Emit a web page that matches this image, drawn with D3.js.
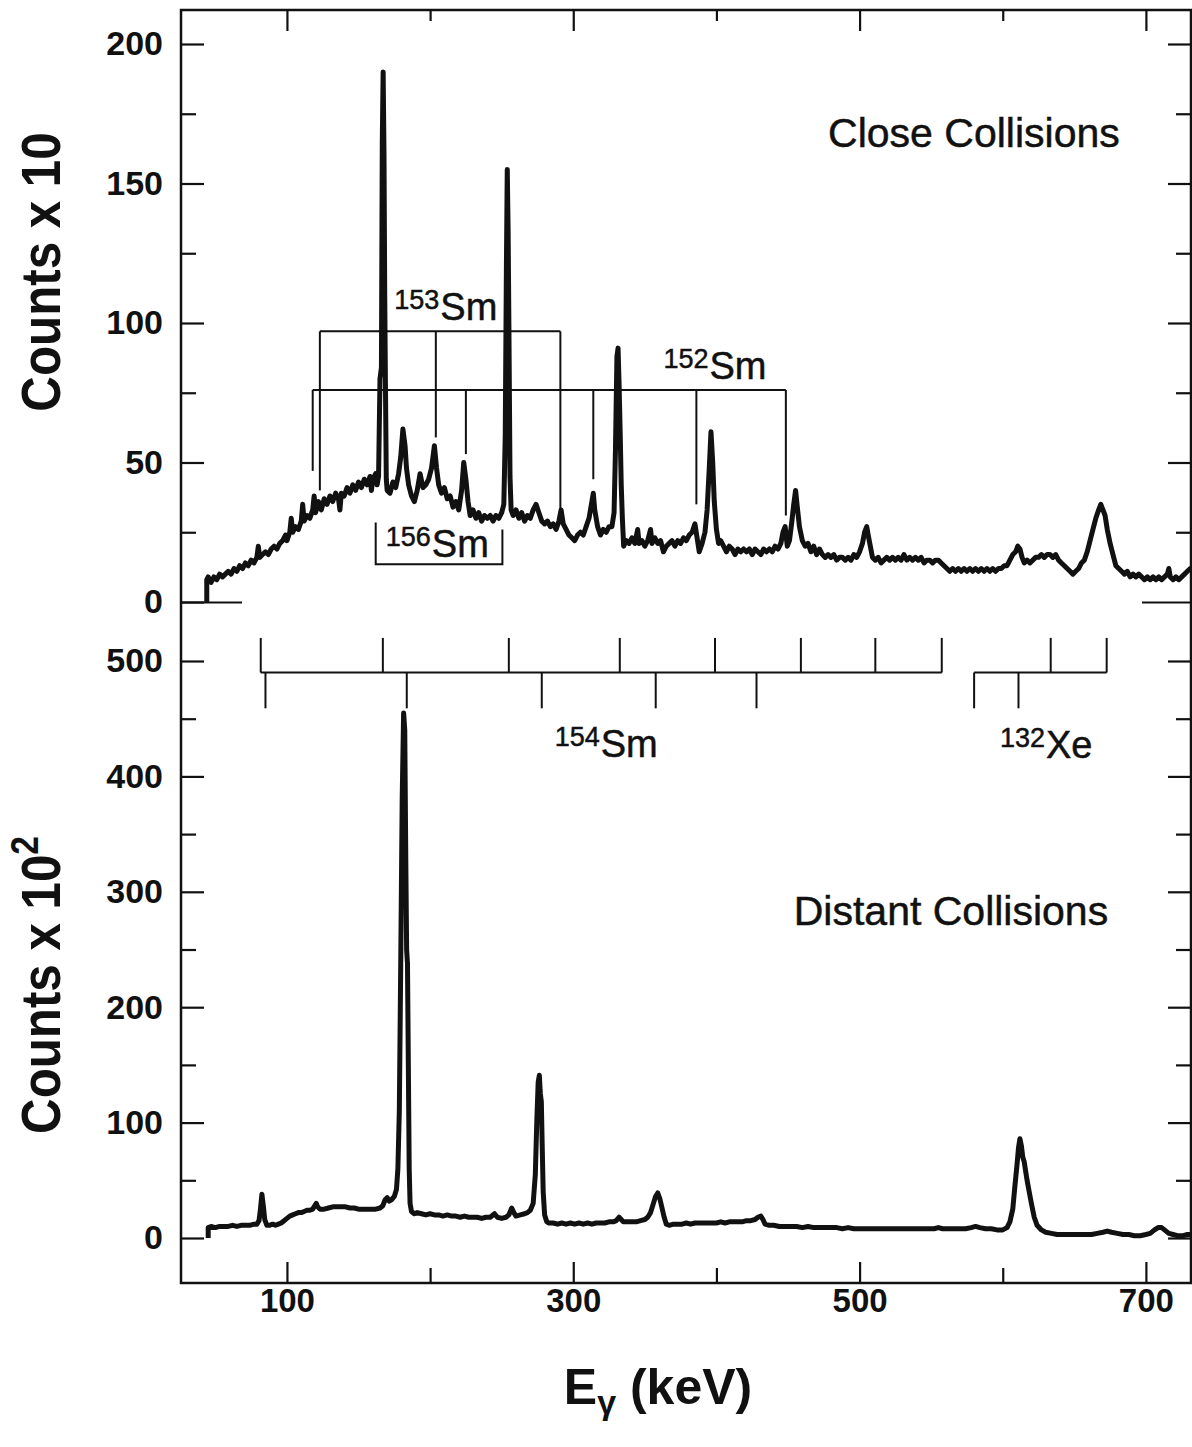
<!DOCTYPE html>
<meta charset="utf-8">
<head>
    <title>Gamma spectra, close and distant collisions</title>
    <script src="https://d3js.org/d3.v7.min.js"></script>
</head>

<style>
body { margin: 0; background: #fff; }
svg { display: block; }
text { font-family: "Liberation Sans", Arial, Helvetica, sans-serif; fill: #111; }
</style>

<body>

<svg></svg>

<script>

// close collisions spectrum [E (keV), counts x 10]
let closeSpectrum = [
  [44,0],[44,8],[45,9],[47,7],[49,9],[51,8],[53,10],[55,9],[57,10],[59,11],[61,10],[63,12],[65,11],[67,13],
  [69,12],[71,14],[73,13],[75,15],[77,14],[79,16],[80,20],[81,16],[83,17],[85,18],[87,17],[89,19],[91,20],
  [93,19],[95,21],[97,22],[99,24],[100,22],[102,25],[103,30],[104,25],[106,27],[108,26],[110,29],[111,35],
  [112,29],[114,31],[116,30],[118,33],[119,38],[120,32],[122,36],[124,33],[126,37],[128,35],[130,38],[132,36],
  [134,39],[136,37],[137,33],[138,39],[140,38],[142,41],[144,39],[146,42],[148,40],[150,43],[152,41],[154,44],
  [156,42],[158,45],[159,40],[160,44],[162,46],[163,42],[164,45],[165,80],[166,84],[166.6,165],[167.2,190],
  [167.8,160],[168.3,110],[168.8,78],[169.4,44],[170,40],[172,39],[174,43],[176,41],[178,46],[179.5,52],
  [181,62],[182.5,56],[183.5,48],[185,42],[187,38],[189,36],[191,40],[193,46],[195,41],[197,42],[199,44],
  [201,48],[203,56],[204.5,48],[206,42],[208,39],[210,41],[212,37],[214,38],[216,34],[218,36],[220,33],
  [222,40],[223.5,50],[225,44],[226.5,36],[228,31],[230,33],[232,30],[234,32],[236,29],[238,31],[240,30],
  [242,31],[244,29],[246,31],[248,30],[250,32],[251.5,35],[252.5,60],[253.3,120],[253.9,155],[254.5,133],
  [255.1,95],[255.8,45],[256.6,33],[258,31],[260,33],[262,30],[264,32],[266,29],[268,31],[270,30],[272,33],
  [274,35],[276,32],[278,29],[280,28],[282,29],[284,27],[286,28],[288,26],[290,29],[291.5,33],[293,28],
  [295,26],[297,24],[299,23],[301,22],[303,24],[305,25],[307,24],[309,27],[311,30],[313,36],[314,39],[315,33],
  [317,27],[319,24],[321,26],[323,25],[325,27],[327,27],[328.5,32],[329.5,55],[330.5,88],[331.3,91],[332,78],
  [332.8,60],[333.5,42],[334.3,30],[335.2,20],[337,22],[339,21],[341,23],[343,21],[345,26],[346,21],[348,22],
  [350,20],[352,22],[354,26],[355,21],[357,23],[359,21],[361,22],[363,18],[365,20],[367,21],[369,22],[371,20],
  [373,22],[375,21],[377,23],[379,22],[381,24],[383,25],[385,28],[386.5,23],[388,18],[390,21],[392,25],
  [393.5,33],[395,48],[396.2,61],[397.4,50],[398.5,36],[400,26],[401.5,21],[403,22],[405,20],[407,18],[409,20],
  [411,19],[413,17],[415,19],[417,18],[419,19],[421,18],[423,19],[425,17],[427,19],[429,18],[431,17],[433,19],
  [435,18],[437,19],[439,18],[441,20],[443,19],[445,21],[446.5,25],[448,27],[449.5,20],[451,22],[452.5,28],
  [454,35],[455.3,40],[456.5,34],[458,27],[460,22],[462,20],[464,21],[466,18],[468,20],[470,17],[472,19],
  [474,17],[476,16],[478,17],[480,16],[482,17],[484,15],[486,16],[488,16],[490,15],[492,16],[494,15],[496,17],
  [498,16],[500,18],[502,21],[503.5,25],[505,27],[506,24],[507.5,20],[509,16],[511,15],[513,16],[515,14],
  [517,15],[519,16],[521,15],[523,16],[525,15],[527,16],[529,15],[531,17],[533,15],[535,16],[537,15],[539,16],
  [541,15],[543,16],[545,14],[547,15],[549,15],[551,14],[553,15],[555,15],[557,14],[559,13],[561,12],[563,11],
  [565,12],[567,11],[569,12],[571,11],[573,12],[575,11],[577,12],[579,11],[581,12],[583,11],[585,12],[587,11],
  [589,12],[591,11],[593,12],[595,11],[597,12],[599,12],[601,13],[603,13],[605,15],[607,17],[609,18],
  [610.5,20],[612,19],[613.5,16],[615,14],[617,15],[619,14],[621,15],[623,16],[625,16],[627,17],[629,16],
  [631,17],[633,17],[635,16],[637,17],[639,15],[641,14],[643,13],[645,12],[647,11],[649,10],[651,11],[653,12],
  [655,14],[657,15],[659,18],[661,22],[663,26],[665,30],[667,33],[668.5,35],[670,33],[671.5,31],[673,26],
  [675,21],[677,17],[679,13],[681,12],[683,11],[685,10],[687,11],[689,9],[691,10],[693,9],[695,10],[697,9],
  [699,8],[701,9],[703,8],[705,9],[707,8],[709,9],[711,8],[713,9],[715,10],[716,12],[717,9],[719,8],[721,9],
  [723,8],[725,9],[727,10],[729,11],[731,12],[732,12]
];

// distant collisions spectrum [E (keV), counts x 10^2]
let distantSpectrum = [
  [45,0],[45,9],[47,10],[50,9],[53,10],[56,10],[59,10],[62,11],[65,10],[68,11],[71,11],[74,11],[77,12],[79,12],
  [80.5,15],[81.5,25],[82.5,38],[83.5,28],[84.5,16],[86,11],[88,11],[90,12],[92,11],[94,12],[96,13],[98,15],
  [100,17],[102,19],[104,20],[106,21],[108,22],[110,22],[112,23],[114,24],[116,24],[118,25],[119.5,28],
  [120.5,30],[121.5,27],[123,25],[126,25],[129,26],[132,27],[135,27],[138,27],[141,27],[144,26],[147,26],
  [150,25],[153,25],[156,25],[159,25],[162,25],[165,26],[167,28],[168.5,33],[170,35],[171.5,32],[173,33],
  [175,36],[176.5,42],[177.5,60],[178.5,110],[179.5,240],[180.5,380],[181.5,455],[182.3,440],[183,330],
  [183.6,250],[184.2,238],[184.8,150],[185.4,60],[186,30],[187,23],[189,21],[191,22],[194,21],[197,20],
  [200,21],[203,20],[206,20],[209,19],[212,20],[215,19],[218,19],[221,18],[224,19],[227,18],[230,18],[233,18],
  [236,17],[239,18],[242,18],[245,21],[247,18],[250,17],[253,18],[255,20],[257,26],[258.5,22],[260,19],
  [263,20],[266,21],[268,22],[270,24],[272,30],[273.5,55],[274.5,100],[275.5,135],[276.3,141],[277,125],
  [277.7,118],[278.3,80],[279,40],[280,20],[281.5,14],[283,13],[286,13],[289,12],[292,13],[295,12],[298,13],
  [301,12],[304,13],[307,12],[310,13],[313,12],[316,13],[319,13],[322,13],[325,14],[328,14],[330,15],[332,18],
  [333.5,16],[335,14],[338,14],[341,14],[344,14],[347,15],[350,16],[352,18],[354,22],[356,30],[357.5,36],
  [359,39],[360.5,34],[362,26],[363.5,18],[365,12],[367,11],[370,12],[373,12],[376,12],[379,13],[382,12],
  [385,13],[388,13],[391,13],[394,13],[397,13],[400,13],[403,14],[406,13],[409,14],[412,14],[415,14],[418,14],
  [421,15],[424,15],[427,16],[429,18],[431,19],[432.5,16],[434,12],[437,11],[440,11],[444,10],[448,10],
  [452,10],[456,10],[460,9],[464,10],[468,9],[472,9],[476,9],[480,9],[484,9],[488,8],[492,9],[496,8],[500,8],
  [504,8],[508,8],[512,8],[516,8],[520,8],[524,8],[528,8],[532,8],[536,8],[540,8],[544,8],[548,8],[552,8],
  [555,9],[558,8],[562,8],[566,8],[570,8],[574,8],[578,9],[581,10],[584,9],[588,8],[592,8],[596,7],[600,7],
  [603,9],[605,14],[607,25],[608.5,45],[610,64],[611,78],[612,86],[613,80],[614,70],[615,66],[616,58],[617,50],
  [618.5,40],[620,30],[622,18],[624,11],[627,7],[630,5],[634,4],[638,3],[642,3],[646,3],[650,3],[654,3],
  [658,3],[662,3],[666,4],[670,5],[673,6],[676,5],[680,4],[684,3],[688,3],[692,2],[696,2],[700,3],[703,4],
  [706,7],[708.5,9],[711,9],[713,7],[716,4],[719,3],[722,2],[726,2],[729,3],[732,3]
];

// level schemes drawn over the close spectrum: [E, lower end of the marker]
let sm153Level = 97;
let sm153Lines = [[123, 40], [204, 59], [291, 32]];
let sm152Level = 76;
let sm152Lines = [[118, 47], [225, 53], [314, 44], [386, 35], [448.5, 31]];
let sm156Box = [[162, 28.5], [162, 13.5], [250.5, 13.5], [250.5, 26]];

// level schemes over the distant spectrum (upward / downward markers)
let sm154Level = 490;
let sm154Up = [81.7, 167, 255, 332.5, 399, 459, 511, 557.4];
let sm154Down = [85, 183.7, 278, 357.6, 428];
let xe132Up = [633.5, 672.6];
let xe132Down = [580, 611];
let markTop = 520, markBottom = 459;

// tick values
let energyLong = [100, 300, 500, 700];
let energyShort = [200, 400, 600];
let closeMajor = [0, 50, 100, 150, 200];
let closeMinor = [25, 75, 125, 175];
let distantMajor = [0, 100, 200, 300, 400, 500];
let distantMinor = [50, 150, 250, 350, 450];

let width = 1192, height = 1447;
let frame = {left: 181, right: 1191, top: 10, bottom: 1283};

let svg = d3.select("svg")
    .attr("width", width)
    .attr("height", height);

// set the ranges
let x = d3.scaleLinear().domain([26, 731.5]).range([frame.left, frame.right]);
let yClose = d3.scaleLinear().domain([0, 200]).range([602, 44]);
let yDist = d3.scaleLinear().domain([0, 500]).range([1238, 661]);

let font = '"Liberation Sans", Arial, Helvetica, sans-serif';

function styleAxis(g, size) {
  g.select(".domain").remove();
  g.selectAll("line").attr("stroke", "#111").attr("stroke-width", 2.2);
  g.attr("font-family", font).attr("font-size", size).attr("font-weight", "bold");
  g.selectAll("text").attr("fill", "#111");
}

// frame
svg.append("rect")
  .attr("x", frame.left)
  .attr("y", frame.top)
  .attr("width", frame.right - frame.left)
  .attr("height", frame.bottom - frame.top)
  .attr("fill", "none")
  .attr("stroke", "#111")
  .attr("stroke-width", 2.5);

// y axes, left side
svg.append("g").attr("transform", "translate(" + frame.left + ",0)")
  .call(d3.axisLeft(yClose).tickValues(closeMajor).tickSize(-23).tickPadding(18))
  .call(g => styleAxis(g, 34));
svg.append("g").attr("transform", "translate(" + frame.left + ",0)")
  .call(d3.axisLeft(yClose).tickValues(closeMinor).tickSize(-15).tickFormat(""))
  .call(g => styleAxis(g, 34));
svg.append("g").attr("transform", "translate(" + frame.left + ",0)")
  .call(d3.axisLeft(yClose).tickValues([0]).tickSize(-61).tickFormat(""))
  .call(g => styleAxis(g, 34));
svg.append("g").attr("transform", "translate(" + frame.left + ",0)")
  .call(d3.axisLeft(yDist).tickValues(distantMajor).tickSize(-23).tickPadding(18))
  .call(g => styleAxis(g, 34));
svg.append("g").attr("transform", "translate(" + frame.left + ",0)")
  .call(d3.axisLeft(yDist).tickValues(distantMinor).tickSize(-15).tickFormat(""))
  .call(g => styleAxis(g, 34));

// y axes, right side (ticks only)
svg.append("g").attr("transform", "translate(" + frame.right + ",0)")
  .call(d3.axisRight(yClose).tickValues(closeMajor.slice(1)).tickSize(-23).tickFormat(""))
  .call(g => styleAxis(g, 34));
svg.append("g").attr("transform", "translate(" + frame.right + ",0)")
  .call(d3.axisRight(yClose).tickValues(closeMinor).tickSize(-15).tickFormat(""))
  .call(g => styleAxis(g, 34));
svg.append("g").attr("transform", "translate(" + frame.right + ",0)")
  .call(d3.axisRight(yClose).tickValues([0]).tickSize(-49).tickFormat(""))
  .call(g => styleAxis(g, 34));
svg.append("g").attr("transform", "translate(" + frame.right + ",0)")
  .call(d3.axisRight(yDist).tickValues(distantMajor).tickSize(-23).tickFormat(""))
  .call(g => styleAxis(g, 34));
svg.append("g").attr("transform", "translate(" + frame.right + ",0)")
  .call(d3.axisRight(yDist).tickValues(distantMinor).tickSize(-15).tickFormat(""))
  .call(g => styleAxis(g, 34));

// x axes, top and bottom
svg.append("g").attr("transform", "translate(0," + frame.top + ")")
  .call(d3.axisTop(x).tickValues(energyLong).tickSize(-21).tickFormat(""))
  .call(g => styleAxis(g, 33));
svg.append("g").attr("transform", "translate(0," + frame.top + ")")
  .call(d3.axisTop(x).tickValues(energyShort).tickSize(-11).tickFormat(""))
  .call(g => styleAxis(g, 33));
svg.append("g").attr("transform", "translate(0," + frame.bottom + ")")
  .call(d3.axisBottom(x).tickValues(energyLong).tickSize(-21).tickPadding(6))
  .call(g => styleAxis(g, 33));
svg.append("g").attr("transform", "translate(0," + frame.bottom + ")")
  .call(d3.axisBottom(x).tickValues(energyShort).tickSize(-15).tickFormat(""))
  .call(g => styleAxis(g, 33));

// spectra
let closeLine = d3.line().x(d => x(d[0])).y(d => yClose(d[1]));
let distLine = d3.line().x(d => x(d[0])).y(d => yDist(d[1]));

svg.append("path")
  .datum(closeSpectrum)
  .attr("d", closeLine)
  .attr("fill", "none")
  .attr("stroke", "#111")
  .attr("stroke-width", 5)
  .attr("stroke-linejoin", "round");

svg.append("path")
  .datum(distantSpectrum)
  .attr("d", distLine)
  .attr("fill", "none")
  .attr("stroke", "#111")
  .attr("stroke-width", 5)
  .attr("stroke-linejoin", "round");

// level scheme markers
let marks = svg.append("g")
  .attr("stroke", "#111")
  .attr("stroke-width", 2)
  .attr("fill", "none");

function bracket(level, lines, yScale) {
  let ex = d3.extent(lines, d => d[0]);
  marks.append("line")
    .attr("x1", x(ex[0])).attr("x2", x(ex[1]))
    .attr("y1", yScale(level)).attr("y2", yScale(level));
  lines.forEach(d => {
    marks.append("line")
      .attr("x1", x(d[0])).attr("x2", x(d[0]))
      .attr("y1", yScale(level)).attr("y2", yScale(d[1]));
  });
}

bracket(sm153Level, sm153Lines, yClose);
bracket(sm152Level, sm152Lines, yClose);

marks.append("path")
  .datum(sm156Box)
  .attr("d", closeLine);

function scheme(level, up, down) {
  let all = up.concat(down);
  marks.append("line")
    .attr("x1", x(d3.min(all))).attr("x2", x(d3.max(all)))
    .attr("y1", yDist(level)).attr("y2", yDist(level));
  up.forEach(e => {
    marks.append("line")
      .attr("x1", x(e)).attr("x2", x(e))
      .attr("y1", yDist(level)).attr("y2", yDist(markTop));
  });
  down.forEach(e => {
    marks.append("line")
      .attr("x1", x(e)).attr("x2", x(e))
      .attr("y1", yDist(level)).attr("y2", yDist(markBottom));
  });
}

scheme(sm154Level, sm154Up, sm154Down);
scheme(sm154Level, xe132Up, xe132Down);

// isotope labels
function isotope(mass, symbol, e, v, yScale) {
  let t = svg.append("text")
    .attr("x", x(e))
    .attr("y", yScale(v))
    .attr("font-size", 38)
    .attr("stroke", "#111")
    .attr("stroke-width", 0.5);
  t.append("tspan").attr("font-size", 27).attr("dy", -11).text(mass);
  t.append("tspan").attr("dy", 11).attr("dx", 1).text(symbol);
}

isotope("153", "Sm", 175, 101, yClose);
isotope("152", "Sm", 363, 80, yClose);
isotope("156", "Sm", 169, 16, yClose);
isotope("154", "Sm", 287, 417, yDist);
isotope("132", "Xe", 598, 416, yDist);

svg.append("text")
  .attr("x", x(478)).attr("y", yClose(163))
  .attr("font-size", 41)
  .attr("stroke", "#111")
  .attr("stroke-width", 0.5)
  .text("Close Collisions");

svg.append("text")
  .attr("x", x(454)).attr("y", yDist(271))
  .attr("font-size", 41)
  .attr("stroke", "#111")
  .attr("stroke-width", 0.5)
  .text("Distant Collisions");

// axis titles
svg.append("text")
  .attr("transform", "translate(60,272) rotate(-90) scale(0.88,1)")
  .attr("text-anchor", "middle")
  .attr("font-size", 56)
  .attr("font-weight", "bold")
  .text("Counts x 10");

let t2 = svg.append("text")
  .attr("transform", "translate(60,985) rotate(-90) scale(0.88,1)")
  .attr("text-anchor", "middle")
  .attr("font-size", 56)
  .attr("font-weight", "bold");
t2.append("tspan").text("Counts x 10");
t2.append("tspan").attr("font-size", 38).attr("dy", -22).text("2");

let xt = svg.append("text")
  .attr("x", 658)
  .attr("y", 1404)
  .attr("text-anchor", "middle")
  .attr("font-size", 50)
  .attr("font-weight", "bold");
xt.append("tspan").text("E");
xt.append("tspan").attr("font-size", 34).attr("dy", 10).text("γ");
xt.append("tspan").attr("dy", -10).text(" (keV)");

</script>

</body>
